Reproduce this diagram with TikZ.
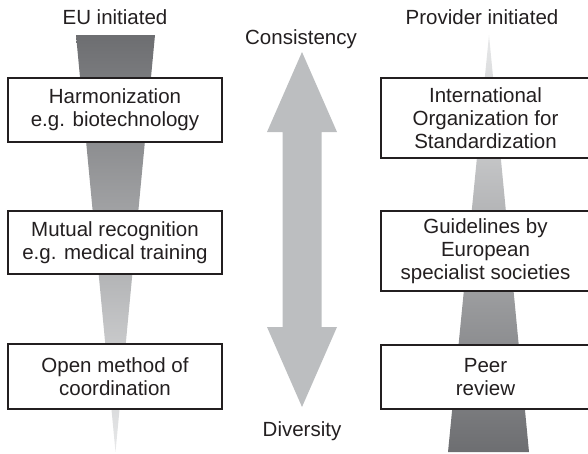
\documentclass[tikz,border=0pt]{standalone}
\usepackage{fontspec}
\setmainfont{Liberation Sans}
\definecolor{darkw}{HTML}{6D6E71}
\definecolor{lightw}{HTML}{E8E9EA}
\definecolor{arrowgray}{HTML}{BCBEC0}
\definecolor{ink}{HTML}{231F20}
\tikzset{
  box/.style={draw=ink, line width=1.2pt, fill=white, align=center, inner sep=0pt,
    text=ink, font=\fontsize{20.5}{23}\selectfont},
  lbl/.style={text=ink, inner sep=0pt, font=\fontsize{20.5}{23}\selectfont}
}
\begin{document}
\begin{tikzpicture}[x=1pt,y=-1pt]
\useasboundingbox (0,0) rectangle (588,453);
\clip (0,0) rectangle (588,453);
% wedges
\shade[top color=darkw, bottom color=lightw] (76,35) -- (155,35) -- (115.5,452) -- cycle;
\shade[top color=lightw, bottom color=darkw] (489,35) -- (529,452) -- (448,452) -- cycle;
% headings
\node[lbl] (eu) at (115,17) {EU initiated};
\node[lbl] (prov) at (482,17) {Provider initiated};
\node[lbl] (cons) at (301,39) {Consistency};
\node[lbl] (div) at (302,431) {Diversity};
% big double arrow
\coordinate (atop) at (302,52);
\coordinate (abot) at (302,407);
\fill[arrowgray] (atop) -- (337,132) -- (321.5,132) -- (321.5,327) -- (337,327) -- (abot)
  -- (267,327) -- (282.5,327) -- (282.5,132) -- (267,132) -- cycle;
% left boxes
\node[box, minimum width=214pt, minimum height=64pt] (b1) at (115,110) {Harmonization\\e.g. biotechnology};
\node[box, minimum width=214pt, minimum height=63pt] (b2) at (115,242.5) {Mutual recognition\\e.g. medical training};
\node[box, minimum width=214pt, minimum height=65pt] (b3) at (115,376.5) {Open method of\\coordination};
% right boxes
\node[box, minimum width=209pt, minimum height=80pt] (r1) at (485.5,118) {International\\Organization for\\Standardization};
\node[box, minimum width=209pt, minimum height=80pt] (r2) at (485.5,251) {Guidelines by\\European\\specialist societies};
\node[box, minimum width=209pt, minimum height=64pt] (r3) at (485.5,377) {Peer\\review};
\end{tikzpicture}
\end{document}
